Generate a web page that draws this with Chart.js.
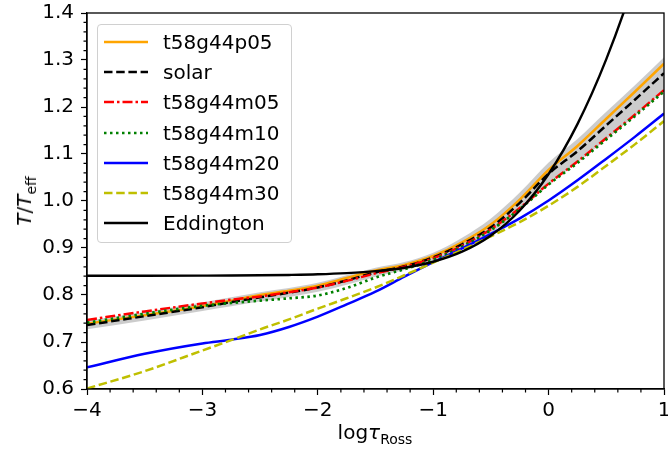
<!DOCTYPE html>
<html>
<head>
<meta charset="utf-8">
<script src="https://cdn.jsdelivr.net/npm/chart.js@4.4.1/dist/chart.umd.min.js"></script>
<style>
    body { margin: 0; background: #fff; }
    #wrap { position: relative; width: 668px; height: 451px; font-family: 'DejaVu Sans', sans-serif; color: #000; }
    #legend {
        position: absolute; left: 97px; top: 24px; width: 193px; height: 217px;
        border: 1px solid #d0d0d0; border-radius: 4px; background: rgba(255,255,255,0.8);
    }
    .row { position: absolute; left: 0; height: 30px; display: flex; align-items: center; font-size: 20px; }
    .row svg { margin-left: 6px; margin-right: 15px; }
    #xlabel { position: absolute; left: 0; width: 750px; top: 420px; text-align: center; font-size: 20px; }
    #ylabel { position: absolute; left: 24px; top: 201px; font-size: 20px; transform: translate(-50%, -50%) rotate(-90deg); white-space: nowrap; }
    sub { font-size: 14px; vertical-align: -5px; line-height: 0; }
</style>
</head>
<body>
<div id="wrap">
    <canvas id="chart" width="668" height="451"></canvas>
    <div id="legend"></div>
    <div id="xlabel">log<i>τ</i><sub>Ross</sub></div>
    <div id="ylabel"><i>T</i>/<i>T</i><sub>eff</sub></div>
</div>
<script>
// log tau_Ross grid shared by every curve
const logTau = [-4, -3.5, -3, -2.75, -2.5, -2.25, -2, -1.75, -1.5, -1.25, -1, -0.75, -0.5, -0.25, 0, 0.25, 0.5, 0.75, 1];

const seriesNames = ['t58g44p05', 'solar', 't58g44m05', 't58g44m10', 't58g44m20', 't58g44m30', 'Eddington'];

const p05 = [0.739, 0.757, 0.776, 0.788, 0.800, 0.809, 0.820, 0.836, 0.852, 0.864, 0.883, 0.912, 0.950, 1.003, 1.066, 1.117, 1.175, 1.233, 1.292];
const solar = [0.736, 0.755, 0.774, 0.785, 0.795, 0.805, 0.816, 0.831, 0.848, 0.861, 0.880, 0.908, 0.944, 0.996, 1.058, 1.106, 1.161, 1.216, 1.272];
const m05 = [0.747, 0.765, 0.782, 0.790, 0.797, 0.806, 0.816, 0.830, 0.846, 0.860, 0.878, 0.905, 0.940, 0.985, 1.037, 1.084, 1.134, 1.184, 1.236];
const m10 = [0.741, 0.760, 0.777, 0.783, 0.788, 0.793, 0.799, 0.815, 0.837, 0.855, 0.875, 0.903, 0.938, 0.983, 1.035, 1.081, 1.131, 1.181, 1.233];
const m20 = [0.646, 0.675, 0.697, 0.705, 0.715, 0.732, 0.754, 0.780, 0.807, 0.839, 0.870, 0.899, 0.930, 0.963, 1.001, 1.044, 1.090, 1.137, 1.186];
const m30 = [0.601, 0.638, 0.682, 0.704, 0.727, 0.748, 0.771, 0.793, 0.816, 0.842, 0.869, 0.896, 0.925, 0.955, 0.990, 1.030, 1.075, 1.121, 1.170];
const eddington = [0.8409, 0.8410, 0.8412, 0.8414, 0.8419, 0.8427, 0.8440, 0.8465, 0.8507, 0.8581, 0.8708, 0.8921, 0.9266, 0.9798, 1.0574, 1.1636, 1.3018, 1.4737, 1.6818];

// grey spread around the solar-scaled models
const bandUpper = [0.745, 0.764, 0.784, 0.795, 0.806, 0.815, 0.826, 0.842, 0.858, 0.870, 0.890, 0.922, 0.963, 1.018, 1.082, 1.132, 1.190, 1.247, 1.306];
const bandLower = [0.727, 0.746, 0.766, 0.776, 0.786, 0.796, 0.807, 0.822, 0.839, 0.853, 0.872, 0.899, 0.932, 0.980, 1.034, 1.082, 1.131, 1.182, 1.234];

const xTicks = [-4, -3, -2, -1, 0, 1];
const yTicks = [0.6, 0.7, 0.8, 0.9, 1.0, 1.1, 1.2, 1.3, 1.4];

const styles = [
    { color: '#ffa500', dash: [], width: 2.5 },
    { color: '#000000', dash: [8.5, 3.7], width: 2.5 },
    { color: '#ff0000', dash: [10, 3, 2.5, 3], width: 2.5 },
    { color: '#008000', dash: [2.5, 3.5], width: 2.7 },
    { color: '#0000ff', dash: [], width: 2.5 },
    { color: '#bfbf00', dash: [8.5, 3.7], width: 2.5 },
    { color: '#000000', dash: [], width: 2.4 }
];

const allSeries = [p05, solar, m05, m10, m20, m30, eddington];

function toPoints(arr) {
    return logTau.map((x, i) => ({ x: x, y: arr[i] }));
}

const datasets = allSeries.map((arr, i) => ({
    label: seriesNames[i],
    data: toPoints(arr),
    borderColor: styles[i].color,
    borderDash: styles[i].dash,
    borderWidth: styles[i].width,
    pointRadius: 0,
    fill: false,
    cubicInterpolationMode: 'monotone',
    order: 10 - i
}));

datasets.push({
    label: 'band upper',
    data: toPoints(bandUpper),
    borderWidth: 0,
    borderColor: 'rgba(0,0,0,0)',
    backgroundColor: 'rgba(128,128,128,0.4)',
    pointRadius: 0,
    fill: '+1',
    cubicInterpolationMode: 'monotone',
    order: 20
});
datasets.push({
    label: 'band lower',
    data: toPoints(bandLower),
    borderWidth: 0,
    borderColor: 'rgba(0,0,0,0)',
    pointRadius: 0,
    fill: false,
    cubicInterpolationMode: 'monotone',
    order: 21
});

// minor ticks + top/right frame
const framePlugin = {
    id: 'frame',
    afterDraw(chart) {
        const ctx = chart.ctx;
        const a = chart.chartArea;
        const xs = chart.scales.x, ys = chart.scales.y;
        ctx.save();
        ctx.strokeStyle = '#000';
        ctx.lineWidth = 1.2;
        ctx.beginPath();
        for (let i = 0; i <= 25; i++) {
            if (i % 5 === 0) continue;
            const px = xs.getPixelForValue(-4 + i * 0.2);
            ctx.moveTo(px, a.bottom);
            ctx.lineTo(px, a.bottom + 3.5);
        }
        for (let i = 0; i <= 40; i++) {
            if (i % 5 === 0) continue;
            const py = ys.getPixelForValue(0.6 + i * 0.02);
            ctx.moveTo(a.left, py);
            ctx.lineTo(a.left - 3.5, py);
        }
        ctx.stroke();
        ctx.lineWidth = 1.3;
        ctx.strokeRect(a.left, a.top, a.right - a.left, a.bottom - a.top);
        ctx.restore();
    }
};

Chart.defaults.font.family = "'DejaVu Sans', sans-serif";
Chart.defaults.font.size = 20;
Chart.defaults.color = '#000';

new Chart(document.getElementById('chart'), {
    type: 'line',
    data: { datasets: datasets },
    options: {
        responsive: false,
        animation: false,
        events: [],
        layout: { padding: { top: 13, right: 4, left: 0, bottom: 0 } },
        plugins: { legend: { display: false }, tooltip: { enabled: false } },
        scales: {
            x: {
                type: 'linear',
                min: -4, max: 1,
                afterFit(scale) {
                    scale.height = 62;
                    scale.paddingLeft = 0;
                    scale.paddingRight = 0;
                },
                afterBuildTicks(scale) { scale.ticks = xTicks.map(v => ({ value: v })); },
                ticks: {
                    padding: 4,
                    maxRotation: 0,
                    callback: v => v < 0 ? '\u2212' + Math.abs(v) : String(v)
                },
                grid: { drawOnChartArea: false, tickLength: 6, tickWidth: 1.2, tickColor: '#000' },
                border: { color: '#000', width: 1.3 }
            },
            y: {
                type: 'linear',
                min: 0.6, max: 1.4,
                afterFit(scale) {
                    scale.width = 87;
                    scale.paddingTop = 0;
                    scale.paddingBottom = 0;
                },
                afterBuildTicks(scale) { scale.ticks = yTicks.map(v => ({ value: v })); },
                ticks: {
                    padding: 7,
                    callback: v => v.toFixed(1)
                },
                grid: { drawOnChartArea: false, tickLength: 6, tickWidth: 1.2, tickColor: '#000' },
                border: { color: '#000', width: 1.3 }
            }
        }
    },
    plugins: [framePlugin]
});

// legend inside the axes, top left
const legend = document.getElementById('legend');
seriesNames.forEach((name, i) => {
    const row = document.createElement('div');
    row.className = 'row';
    row.style.top = (2 + i * 30.2) + 'px';
    const s = styles[i];
    row.innerHTML = '<svg width="44" height="10"><line x1="0" y1="5" x2="44" y2="5" stroke="' + s.color +
        '" stroke-width="' + s.width + '" stroke-dasharray="' + (s.dash.length ? s.dash.join(' ') : 'none') + '"/></svg>' +
        '<span>' + name + '</span>';
    legend.appendChild(row);
});
</script>
</body>
</html>
